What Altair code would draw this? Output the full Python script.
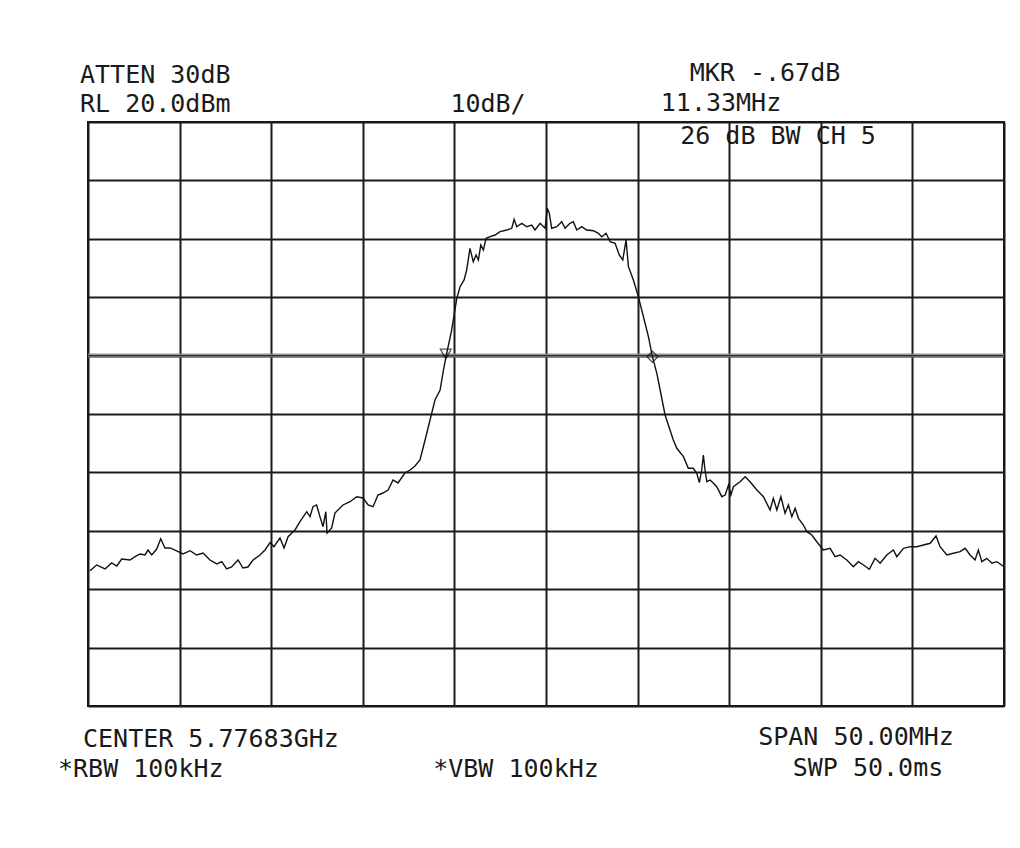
import altair as alt
import pandas as pd

# Trace: frequency offset from centre (MHz) and level (dBm)
freq_mhz = [
    -24.89, -24.53, -24.07, -23.71, -23.43, -23.16, -22.71, -22.43, -22.16, -21.89,
    -21.72, -21.52, -21.25, -21.03, -20.80, -20.52, -20.25, -19.81, -19.43, -19.07,
    -18.72, -18.34, -17.97, -17.70, -17.43, -17.16, -16.81, -16.54, -16.27, -15.99,
    -15.61, -15.34, -15.06, -14.85, -14.52, -14.30, -14.08, -13.70, -13.43, -13.06,
    -12.88, -12.72, -12.52, -12.34, -12.17, -12.02, -11.95, -11.70, -11.52, -11.08,
    -10.70, -10.33, -9.99, -9.71, -9.44, -9.17, -8.90, -8.62, -8.35, -8.08,
    -7.70, -7.42, -7.15, -6.88, -6.60, -6.33, -6.06, -5.78, -5.60, -5.42,
    -5.15, -4.87, -4.69, -4.47, -4.33, -4.15, -3.97, -3.82, -3.69, -3.56,
    -3.42, -3.27, -3.05, -2.78, -2.51, -2.14, -1.87, -1.74, -1.60, -1.32,
    -1.05, -0.78, -0.60, -0.32, -0.05, 0.07, 0.18, 0.31, 0.59, 0.86,
    1.04, 1.31, 1.49, 1.68, 1.95, 2.22, 2.59, 2.86, 3.04, 3.28,
    3.50, 3.77, 4.00, 4.19, 4.37, 4.50, 4.77, 5.04, 5.32, 5.59,
    5.81, 6.05, 6.23, 6.50, 6.77, 6.95, 7.14, 7.50, 7.77, 8.04,
    8.23, 8.37, 8.50, 8.59, 8.68, 8.78, 8.96, 9.14, 9.32, 9.60,
    9.78, 9.96, 10.09, 10.23, 10.59, 10.87, 11.14, 11.51, 11.87, 12.23,
    12.41, 12.60, 12.82, 13.05, 13.23, 13.42, 13.60, 13.78, 14.05, 14.24,
    14.51, 14.78, 15.14, 15.51, 15.78, 16.05, 16.42, 16.78, 17.05, 17.33,
    17.65, 17.96, 18.24, 18.60, 18.96, 19.15, 19.51, 19.88, 20.24, 20.60,
    20.97, 21.29, 21.51, 21.88, 22.24, 22.60, 22.88, 23.15, 23.42, 23.60,
    23.79, 24.06, 24.34, 24.61, 25.00,
]
level_dbm = [
    -56.83, -55.85, -56.54, -55.51, -56.03, -54.83, -55.00, -54.43, -53.97, -54.14,
    -53.29, -54.14, -53.12, -51.35, -52.94, -52.94, -53.29, -53.97, -53.41, -54.14,
    -53.80, -55.00, -55.68, -55.29, -56.54, -56.20, -55.00, -56.37, -56.20, -55.00,
    -54.14, -53.29, -52.04, -52.72, -51.23, -52.94, -51.01, -49.86, -48.44, -46.73,
    -47.58, -45.87, -45.58, -47.58, -49.30, -46.73, -50.38, -49.52, -46.95, -45.58,
    -45.02, -44.16, -44.38, -45.58, -45.87, -43.87, -43.53, -43.01, -41.30, -41.81,
    -40.10, -39.59, -38.90, -37.88, -34.45, -31.03, -27.60, -25.89, -22.47, -19.61,
    -15.62, -10.19, -8.20, -7.05, -5.34, -1.63, -3.92, -2.77, -3.63, -1.06,
    -1.92, 0.09, 0.36, 0.65, 1.22, 1.51, 1.80, 3.34, 2.07, 2.65,
    2.07, 2.36, 1.51, 2.65, 1.80, 5.22, 4.37, 1.80, 2.07, 2.93,
    1.80, 2.65, 2.93, 1.51, 2.07, 1.51, 1.39, 0.94, 0.36, 0.94,
    -0.50, -0.77, -2.77, -3.63, -0.21, -4.78, -7.05, -9.91, -13.34, -16.76,
    -20.19, -23.03, -25.89, -30.17, -32.74, -34.45, -35.87, -37.31, -39.30, -39.30,
    -40.15, -41.76, -39.59, -37.02, -39.59, -41.59, -41.30, -41.87, -42.45, -44.16,
    -43.87, -42.16, -43.87, -42.45, -41.59, -40.73, -41.59, -43.01, -44.16, -46.44,
    -44.43, -46.44, -44.16, -47.00, -45.58, -47.58, -46.15, -47.86, -49.01, -50.15,
    -50.72, -51.87, -53.29, -53.00, -54.43, -54.14, -55.00, -56.15, -55.29, -55.85,
    -56.59, -54.71, -55.56, -54.14, -53.29, -54.43, -53.00, -52.72, -52.72, -52.43,
    -52.14, -50.89, -52.72, -54.14, -53.85, -53.58, -53.00, -54.14, -55.00, -53.29,
    -55.29, -54.71, -55.56, -55.29, -56.15,
]

# Display line and the two band-edge markers
display_line_dbm = [-20.0]
marker_freq = [-5.47, 5.81]
marker_level = [-19.7, -20.2]
marker_shape = ["triangle-down", "diamond"]

# Grid (10 divisions each way)
x_grid = [-25, -20, -15, -10, -5, 0, 5, 10, 15, 20, 25]
y_grid = [20, 10, 0, -10, -20, -30, -40, -50, -60, -70, -80]

# Annotation texts
header_texts = ["ATTEN 30dB", "MKR -.67dB", "RL 20.0dBm", "10dB/", "11.33MHz", "26 dB BW CH 5"]
footer_texts = ["CENTER 5.77683GHz", "SPAN 50.00MHz", "*RBW 100kHz", "*VBW 100kHz", "SWP 50.0ms"]

W, H = 916, 584
xs = alt.Scale(domain=[-25, 25], nice=False, zero=False)
ys = alt.Scale(domain=[-80, 20], nice=False, zero=False)

trace_df = pd.DataFrame({"f": freq_mhz, "lvl": level_dbm})
mk_df = pd.DataFrame({"f": marker_freq, "lvl": marker_level, "shape": marker_shape})
dl_df = pd.DataFrame({"lvl": display_line_dbm})

x_axis = alt.Axis(values=x_grid, grid=True, labels=False, ticks=False, domain=False, title=None,
                  gridColor="#1a1a1a", gridWidth=2, gridOpacity=1)
y_axis = alt.Axis(values=y_grid, grid=True, labels=False, ticks=False, domain=False, title=None,
                  gridColor="#1a1a1a", gridWidth=2, gridOpacity=1)

base = alt.Chart(trace_df).mark_line(color="#111111", strokeWidth=1.4, interpolate="linear").encode(
    x=alt.X("f:Q", scale=xs, axis=x_axis),
    y=alt.Y("lvl:Q", scale=ys, axis=y_axis),
)

dline = alt.Chart(dl_df).mark_rule(color="#8a8a8a", strokeWidth=4, opacity=0.9).encode(
    y=alt.Y("lvl:Q", scale=ys),
)
dline_core = alt.Chart(dl_df).mark_rule(color="#333333", strokeWidth=1.2).encode(
    y=alt.Y("lvl:Q", scale=ys),
)

markers = alt.Chart(mk_df).mark_point(filled=False, color="#111111", strokeWidth=1.3, size=120).encode(
    x=alt.X("f:Q", scale=xs),
    y=alt.Y("lvl:Q", scale=ys),
    shape=alt.Shape("shape:N", scale=None, legend=None),
)

FONT = "DejaVu Sans Mono"
FS = 25


def label(text, px, py, align):
    # px, py are page pixel positions; convert to plot-relative
    return alt.Chart(pd.DataFrame({"t": [text]})).mark_text(
        font=FONT, fontSize=FS, align=align, baseline="middle", color="#1a1a1a", fontWeight="normal"
    ).encode(x=alt.value(px - 88), y=alt.value(py - 122), text="t:N")


labels = [
    label(header_texts[0], 80, 75, "left"),
    label(header_texts[1], 765, 73, "center"),
    label(header_texts[2], 80, 104, "left"),
    label(header_texts[3], 488, 104, "center"),
    label(header_texts[4], 721, 103, "center"),
    label(header_texts[5], 778, 136, "center"),
    label(footer_texts[0], 83, 739, "left"),
    label(footer_texts[1], 856, 737, "center"),
    label(footer_texts[2], 58, 769, "left"),
    label(footer_texts[3], 516, 769, "center"),
    label(footer_texts[4], 868, 768, "center"),
]

chart = alt.layer(dline, dline_core, base, markers, *labels).properties(
    width=W, height=H,
    autosize=alt.AutoSizeParams(type="none"),
    padding={"left": 80, "top": 114, "right": 4, "bottom": 110},
    background="white",
).configure_view(stroke="#111111", strokeWidth=2)

chart.save("out.html", embed_options={"renderer": "svg", "actions": False})
